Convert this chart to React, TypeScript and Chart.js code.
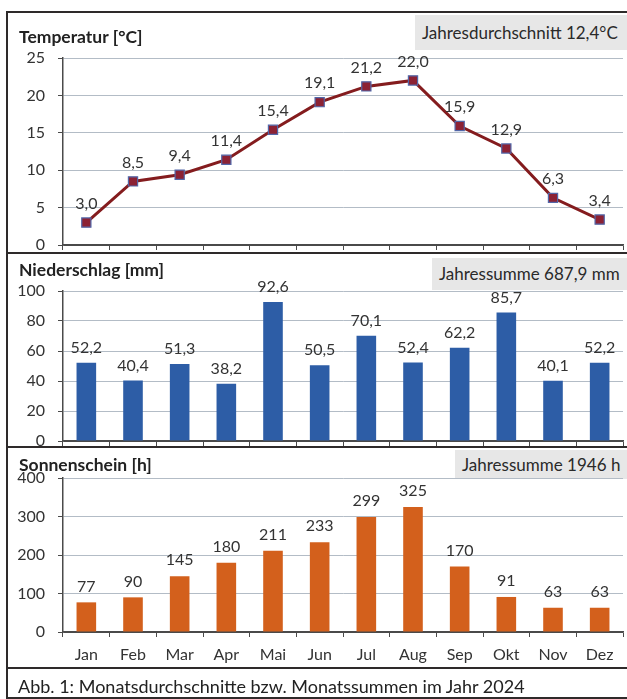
import React, { useEffect, useRef } from "react";
import { Chart, registerables } from "chart.js";

Chart.register(...registerables);

// ---------- data ----------
const months = ["Jan", "Feb", "Mar", "Apr", "Mai", "Jun", "Jul", "Aug", "Sep", "Okt", "Nov", "Dez"];
const temperature = [3.0, 8.5, 9.4, 11.4, 15.4, 19.1, 21.2, 22.0, 15.9, 12.9, 6.3, 3.4];
const precipitation = [52.2, 40.4, 51.3, 38.2, 92.6, 50.5, 70.1, 52.4, 62.2, 85.7, 40.1, 52.2];
const sunshine = [77, 90, 145, 180, 211, 233, 299, 325, 170, 91, 63, 63];

const tempAxis = [0, 25, 5];
const precipAxis = [0, 100, 20];
const sunAxis = [0, 400, 100];

const titles = ["Temperatur [°C]", "Niederschlag [mm]", "Sonnenschein [h]"];
const notes = ["Jahresdurchschnitt 12,4°C", "Jahressumme 687,9 mm", "Jahressumme 1946 h"];
const caption = "Abb. 1: Monatsdurchschnitte bzw. Monatssummen im Jahr 2024";

// ---------- style ----------
const FONT = "Lato, 'Open Sans', sans-serif";
const TEXT = "#333333";
const GRID = "#b3bcc6";
const AXIS = "#4a4a4a";
const FRAME = "#2e2a2a";

const dec1 = (v: number) => v.toFixed(1).replace(".", ",");
const int0 = (v: number) => String(Math.round(v));

function labelPlugin(fmt: (v: number) => string, offset: number) {
  return {
    id: "valueLabels",
    afterDatasetsDraw(chart: any) {
      const ctx = chart.ctx;
      const meta = chart.getDatasetMeta(0);
      const data = chart.data.datasets[0].data as number[];
      ctx.save();
      ctx.font = `16px ${FONT}`;
      ctx.fillStyle = TEXT;
      ctx.textAlign = "center";
      ctx.textBaseline = "middle";
      meta.data.forEach((el: any, i: number) => {
        const p = el.getProps(["x", "y"], true);
        ctx.fillText(fmt(data[i]), p.x, p.y - offset);
      });
      ctx.restore();
    },
  };
}

type PanelProps = {
  top: number;
  height: number;
  padTop: number;
  xHeight: number;
  kind: "line" | "bar";
  values: number[];
  axis: number[];
  color: string;
  showX: boolean;
  fmt: (v: number) => string;
  labelOffset: number;
};

function Panel(p: PanelProps) {
  const ref = useRef<HTMLCanvasElement | null>(null);
  useEffect(() => {
    if (!ref.current) return;
    const dataset: any =
      p.kind === "line"
        ? {
            data: p.values,
            borderColor: "#841c1e",
            borderWidth: 3,
            pointStyle: "rect",
            pointRadius: 6.5,
            pointBackgroundColor: "#8c2234",
            pointBorderColor: "#5266a8",
            pointBorderWidth: 1.2,
            tension: 0,
          }
        : {
            data: p.values,
            backgroundColor: p.color,
            barPercentage: 0.42,
            categoryPercentage: 1,
          };
    const chart = new Chart(ref.current, {
      type: p.kind,
      data: { labels: months, datasets: [dataset] },
      options: {
        animation: false,
        responsive: false,
        events: [],
        layout: { autoPadding: false, padding: { top: p.padTop, right: 4, left: 0, bottom: 0 } },
        plugins: { legend: { display: false }, tooltip: { enabled: false } },
        scales: {
          x: {
            type: "category",
            offset: true,
            grid: {
              offset: true,
              drawOnChartArea: false,
              drawTicks: true,
              tickLength: 5,
              tickColor: AXIS,
              lineWidth: 1,
            },
            border: { color: AXIS, width: 1.5 },
            ticks: {
              display: p.showX,
              padding: 8,
              color: TEXT,
              font: { family: FONT, size: 16 },
              maxRotation: 0,
              autoSkip: false,
            },
            afterFit: (s: any) => {
              s.height = p.xHeight;
              s.paddingLeft = 0;
              s.paddingRight = 0;
            },
          },
          y: {
            min: p.axis[0],
            max: p.axis[1],
            ticks: {
              stepSize: p.axis[2],
              padding: 13,
              color: TEXT,
              font: { family: FONT, size: 16 },
            },
            grid: {
              color: (c: any) => (c.tick && c.tick.value === 0 ? AXIS : GRID),
              lineWidth: 1,
              tickLength: 5,
              tickColor: AXIS,
            },
            border: { color: AXIS, width: 1.5 },
            afterFit: (s: any) => {
              s.width = 63;
              s.paddingTop = 0;
              s.paddingBottom = 0;
            },
          },
        },
      },
      plugins: [labelPlugin(p.fmt, p.labelOffset)],
    } as any);
    return () => chart.destroy();
  }, []);
  return (
    <canvas
      ref={ref}
      width={627}
      height={p.height}
      style={{ position: "absolute", left: 0, top: p.top, width: 627, height: p.height }}
    />
  );
}

const titleStyle = (top: number): React.CSSProperties => ({
  position: "absolute",
  left: 19,
  top,
  fontFamily: FONT,
  fontWeight: 700,
  fontSize: 17.5,
  lineHeight: "22px",
  color: "#222",
  whiteSpace: "nowrap",
});

const noteStyle = (left: number, top: number, height: number): React.CSSProperties => ({
  position: "absolute",
  left,
  top,
  width: 627 - left,
  height,
  background: "#e7e7e7",
  fontFamily: FONT,
  fontSize: 17,
  lineHeight: `${height}px`,
  color: "#2a2a2a",
  paddingLeft: 7,
  boxSizing: "border-box",
  whiteSpace: "nowrap",
  overflow: "hidden",
});

const hLine = (top: number): React.CSSProperties => ({
  position: "absolute",
  left: 6,
  top,
  width: 621,
  height: 2,
  background: FRAME,
});

export default function App() {
  return (
    <div
      style={{
        position: "fixed",
        left: 0,
        top: 0,
        width: 627,
        height: 699,
        background: "#ffffff",
        overflow: "hidden",
      }}
    >
      <div style={noteStyle(415, 15, 35)}>{notes[0]}</div>
      <div style={noteStyle(432, 258, 32)}>{notes[1]}</div>
      <div style={noteStyle(455, 450, 29)}>{notes[2]}</div>

      <Panel top={45} height={215} padTop={13} xHeight={15} kind="line" values={temperature}
        axis={tempAxis} color="#841c1e" showX={false} fmt={dec1} labelOffset={19} />
      <Panel top={279} height={175} padTop={12} xHeight={13} kind="bar" values={precipitation}
        axis={precipAxis} color="#2d5da6" showX={false} fmt={dec1} labelOffset={15} />
      <Panel top={465} height={203} padTop={13} xHeight={36} kind="bar" values={sunshine}
        axis={sunAxis} color="#d3601c" showX={true} fmt={int0} labelOffset={16} />

      <div style={titleStyle(26)}>{titles[0]}</div>
      <div style={titleStyle(259)}>{titles[1]}</div>
      <div style={titleStyle(454)}>{titles[2]}</div>

      {/* frame */}
      <div style={hLine(11)} />
      <div style={hLine(252)} />
      <div style={hLine(446)} />
      <div style={hLine(667)} />
      <div style={hLine(697)} />
      <div style={{ position: "absolute", left: 6, top: 11, width: 2, height: 688, background: FRAME }} />

      <div
        style={{
          position: "absolute",
          left: 18,
          top: 674,
          fontFamily: FONT,
          fontSize: 18,
          lineHeight: "24px",
          color: "#222",
          whiteSpace: "nowrap",
        }}
      >
        {caption}
      </div>
    </div>
  );
}
